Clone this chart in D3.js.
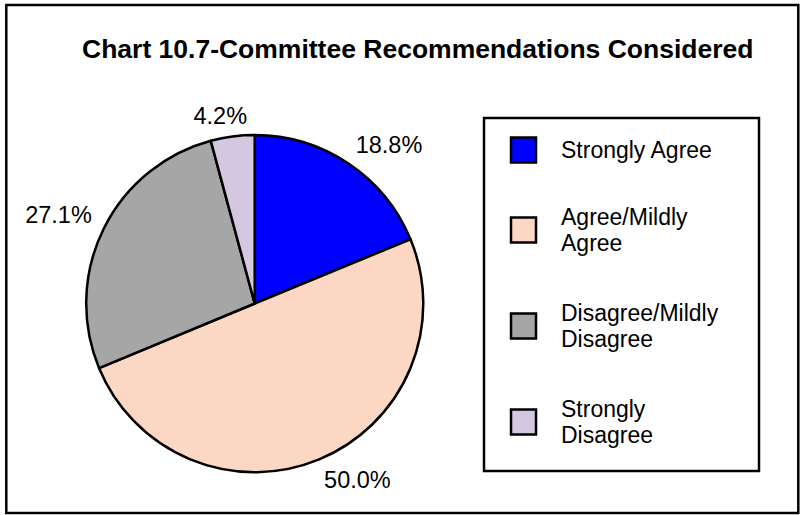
<!DOCTYPE html>
<html>
<head>
<meta charset="utf-8">
<script src="https://cdn.jsdelivr.net/npm/d3@7"></script>
<style>
  body { margin: 0; background: #fff; }
  text { font-family: "Liberation Sans", Arial, sans-serif; fill: #000; }
</style>
</head>
<body>
<svg id="chart" width="801" height="515"></svg>
<script>
// chart data
var categories = ["Strongly Agree", "Agree/Mildly Agree", "Disagree/Mildly Disagree", "Strongly Disagree"];
var legendLines = [["Strongly Agree"], ["Agree/Mildly", "Agree"], ["Disagree/Mildly", "Disagree"], ["Strongly", "Disagree"]];
var values = [18.8, 50.0, 27.1, 4.2];
var labels = ["18.8%", "50.0%", "27.1%", "4.2%"];
var colors = ["#0000ff", "#fcd7c3", "#a6a6a6", "#d3c8e0"];

var svg = d3.select("#chart");

// outer frame
svg.append("rect")
	.attr("x", 6.3).attr("y", 5)
	.attr("width", 792).attr("height", 508)
	.style("fill", "none")
	.style("stroke", "#000")
	.style("stroke-width", 2.5);

svg.append("text")
	.attr("x", 82)
	.attr("y", 58)
	.style("font-size", "26.5px")
	.style("font-weight", "bold")
	.text("Chart 10.7-Committee Recommendations Considered");

var cx = 254.7, cy = 303.5, r = 168.5;
var color = d3.scaleOrdinal().domain(categories).range(colors);

var pie = d3.pie().sort(null).value(function(d) { return d; });
var arcs = pie(values);
var arc = d3.arc().innerRadius(0).outerRadius(r);

var pieGroup = svg.append("g").attr("transform", "translate(" + cx + "," + cy + ")");

pieGroup.selectAll("path")
	.data(arcs)
	.enter()
	.append("path")
	.attr("d", arc)
	.style("fill", function(d, i) { return color(categories[i]); })
	.style("stroke", "#000")
	.style("stroke-width", 2.5)
	.style("stroke-linejoin", "round");

// labels sit just outside the rim, pushed away from the pie
var labelR = r + 13, capH = 17;
pieGroup.selectAll(".pct")
	.data(arcs)
	.enter()
	.append("text")
	.attr("class", "pct")
	.style("font-size", "23.5px")
	.style("text-anchor", "middle")
	.each(function(d, i) {
		var a = (d.startAngle + d.endAngle) / 2;
		var s = Math.sin(a), c = Math.cos(a);
		var el = d3.select(this).text(labels[i]);
		var w = this.getComputedTextLength();
		var px = labelR * s, py = -labelR * c;
		var ox = w / 2 * Math.max(-1, Math.min(1, s * 3));
		var oy = -capH / 2 * Math.max(-1, Math.min(1, c * 3));
		el.attr("x", px + ox).attr("y", py + oy + capH / 2);
	});

// legend
svg.append("rect")
	.attr("x", 484).attr("y", 118)
	.attr("width", 275).attr("height", 353)
	.style("fill", "#fff")
	.style("stroke", "#000")
	.style("stroke-width", 2.5);

var rowY = [150, 230, 326, 422];
var legend = svg.selectAll(".legend")
	.data(categories)
	.enter()
	.append("g")
	.attr("class", "legend")
	.attr("transform", function(d, i) { return "translate(0," + rowY[i] + ")"; });

legend.append("rect")
	.attr("x", 511).attr("y", -12.5)
	.attr("width", 25).attr("height", 25)
	.style("fill", function(d) { return color(d); })
	.style("stroke", "#000")
	.style("stroke-width", 2.5);

legend.each(function(d, i) {
	var lines = legendLines[i];
	var g = d3.select(this);
	var lh = 26.5;
	lines.forEach(function(t, j) {
		g.append("text")
			.attr("x", 561)
			.attr("y", 8 + (j - (lines.length - 1) / 2) * lh)
			.style("font-size", "23px")
			.text(t);
	});
});
</script>
</body>
</html>
